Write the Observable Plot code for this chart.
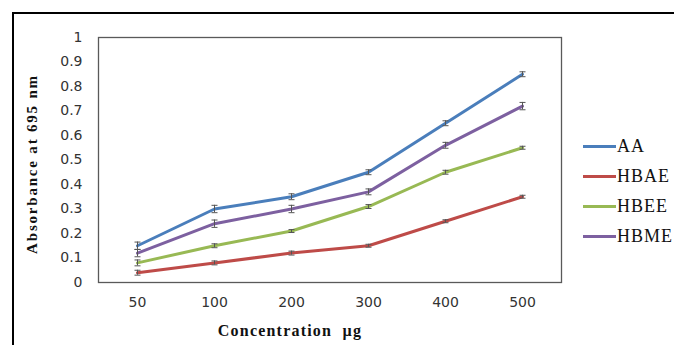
<!DOCTYPE html>
<html><head><meta charset="utf-8">
<script src="https://cdn.jsdelivr.net/npm/d3@7"></script>
<script src="https://cdn.jsdelivr.net/npm/@observablehq/plot@0.6"></script>
<style>
body{margin:0;background:#fff;}
#wrap{position:relative;width:674px;height:345px;overflow:hidden;font-family:"Liberation Serif","Times New Roman",serif;}
#frame{position:absolute;left:12px;top:12px;width:700px;height:400px;border-top:2px solid #000;border-left:2px solid #000;}
#chart{position:absolute;left:0;top:0;}
.ytitle{position:absolute;left:32px;top:164px;transform:translate(-50%,-50%) rotate(-90deg);font-weight:bold;font-size:15px;white-space:nowrap;letter-spacing:1.8px;color:#111;}
.xtitle{position:absolute;left:290px;top:331px;transform:translate(-50%,-50%);font-weight:bold;font-size:16px;white-space:nowrap;letter-spacing:1.2px;color:#111;}
#legend{position:absolute;left:583px;top:131px;}
.li{display:flex;align-items:center;height:30px;font-size:18px;letter-spacing:1px;color:#111;}
.li span.sw{display:inline-block;width:33px;height:3px;margin-right:1px;}
</style></head><body>
<div id="wrap"><div id="frame"></div><div id="chart"></div>
<div class="ytitle">Absorbance at 695 nm</div>
<div class="xtitle">Concentration&nbsp;&nbsp;µg</div>
<div id="legend"></div></div>
<script>
const concentrations = ["50","100","200","300","400","500"];
const seriesNames = ["AA","HBAE","HBEE","HBME"];
const colors = ["#4A7EBB","#BE4B48","#98B954","#7D60A0"];
const AA   = [0.15,0.30,0.35,0.45,0.65,0.85];
const HBAE = [0.04,0.08,0.12,0.15,0.25,0.35];
const HBEE = [0.08,0.15,0.21,0.31,0.45,0.55];
const HBME = [0.12,0.24,0.30,0.37,0.56,0.72];
const errAA   = [0.015,0.015,0.012,0.010,0.010,0.010];
const errHBAE = [0.010,0.008,0.008,0.006,0.006,0.006];
const errHBEE = [0.012,0.008,0.006,0.008,0.008,0.006];
const errHBME = [0.015,0.015,0.015,0.012,0.012,0.015];
const yTicks = [0,0.1,0.2,0.3,0.4,0.5,0.6,0.7,0.8,0.9,1];

const values = [AA,HBAE,HBEE,HBME];
const errs = [errAA,errHBAE,errHBEE,errHBME];
const data = [];
seriesNames.forEach((s,i)=>concentrations.forEach((c,j)=>data.push({series:s,conc:c,v:values[i][j],e:errs[i][j]})));

const capSymbol = {draw(ctx,size){const r=Math.sqrt(size/Math.PI);ctx.moveTo(-r,0);ctx.lineTo(r,0);}};

const plot = Plot.plot({
  width:674,height:345,
  marginLeft:98,marginRight:113,marginTop:37,marginBottom:63,
  style:{fontFamily:"'DejaVu Sans', sans-serif",background:"transparent",color:"#333"},
  x:{type:"point",domain:concentrations,padding:0.5},
  y:{domain:[0,1]},
  color:{domain:seriesNames,range:colors},
  marks:[
    Plot.frame({stroke:"#595959",strokeWidth:1.3}),
    Plot.axisY({ticks:yTicks,tickFormat:d=>String(+d.toFixed(1)),tickSize:0,tickPadding:16,fontSize:14,label:null}),
    Plot.axisX({tickSize:0,tickPadding:15,fontSize:14,label:null}),
    Plot.line(data,{x:"conc",y:"v",z:"series",stroke:"series",strokeWidth:3,curve:"linear"}),
    Plot.ruleX(data,{x:"conc",y1:d=>d.v-d.e,y2:d=>d.v+d.e,stroke:"#555",strokeWidth:1}),
    Plot.dot(data,{x:"conc",y:d=>d.v-d.e,symbol:capSymbol,r:3,stroke:"#555",strokeWidth:1}),
    Plot.dot(data,{x:"conc",y:d=>d.v+d.e,symbol:capSymbol,r:3,stroke:"#555",strokeWidth:1})
  ]
});
document.getElementById("chart").appendChild(plot);
const lg = document.getElementById("legend");
seriesNames.forEach((s,i)=>{
  const d=document.createElement("div");d.className="li";
  d.innerHTML=`<span class="sw" style="background:${colors[i]}"></span>${s}`;
  lg.appendChild(d);
});
</script></body></html>
